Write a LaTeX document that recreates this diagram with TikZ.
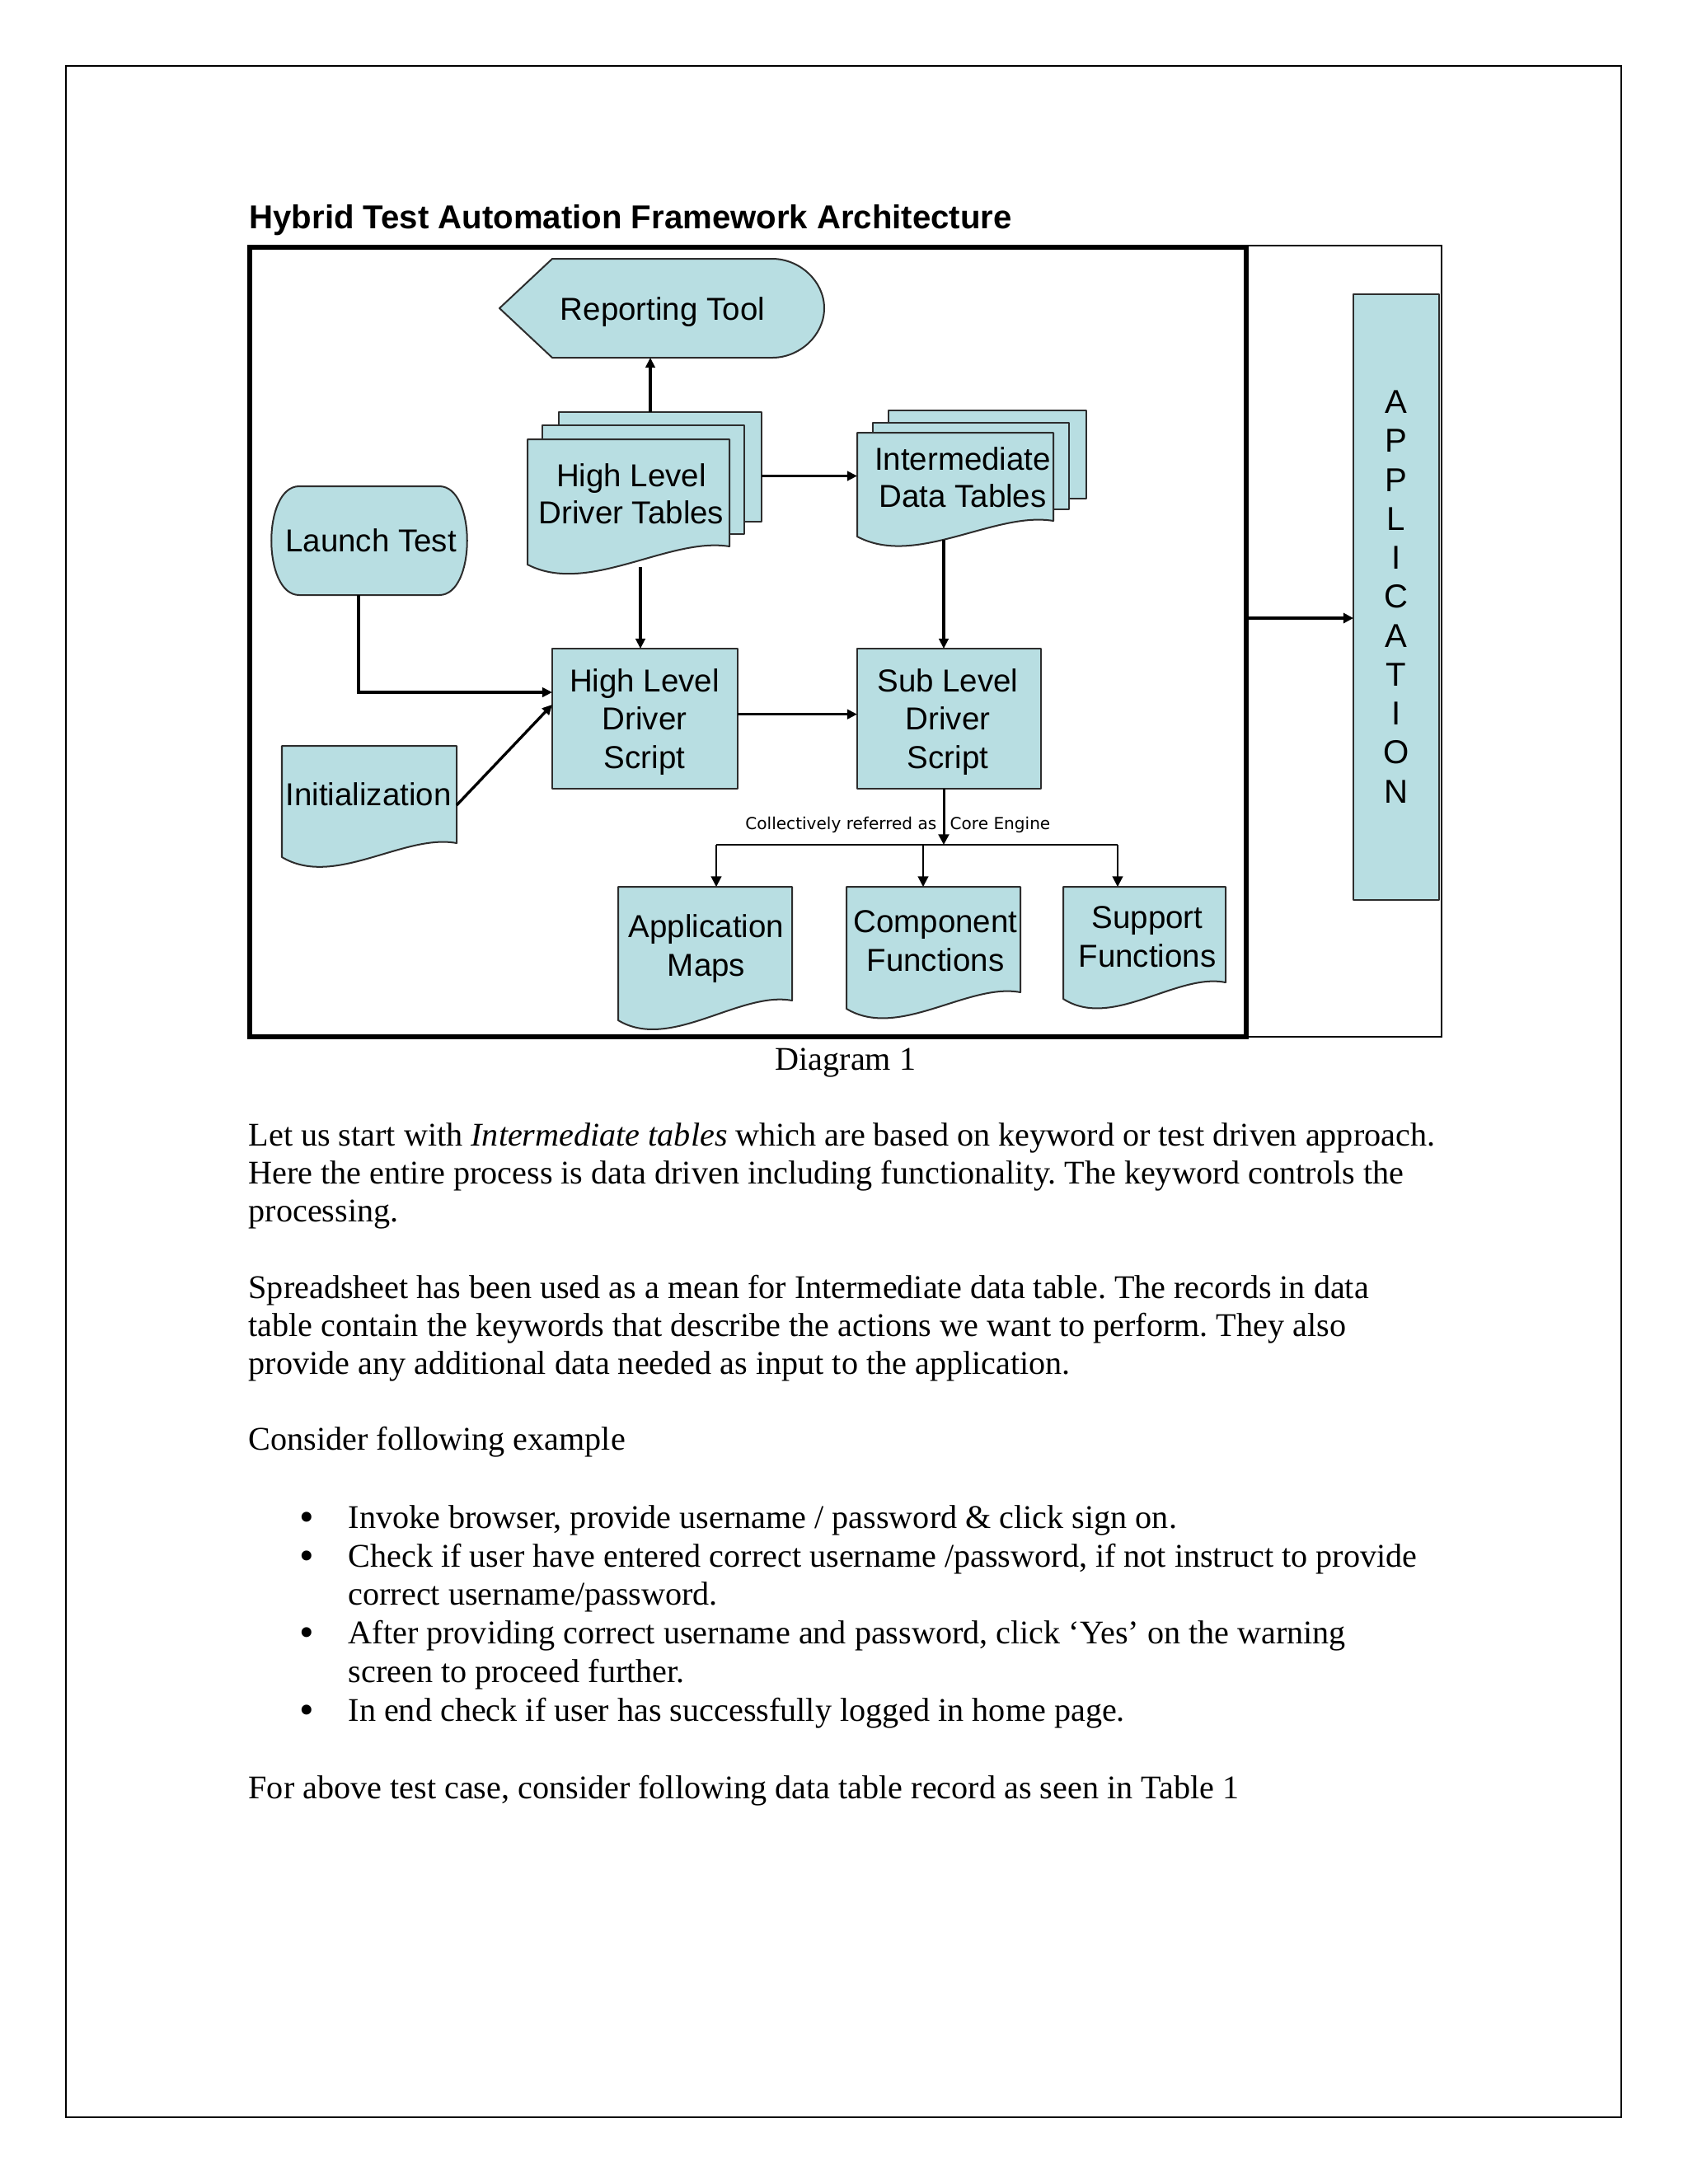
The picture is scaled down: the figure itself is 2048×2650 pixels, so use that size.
\documentclass[tikz,border=0pt]{standalone}
\usepackage{fontspec}
\setmainfont{Liberation Serif}
\newfontfamily\arialfont{Liberation Sans}
\newfontfamily\dejavufont{DejaVu Sans}
\usetikzlibrary{arrows.meta,fit}
\definecolor{boxfill}{RGB}{184,222,226}
\definecolor{boxline}{RGB}{45,45,45}
\newcommand\docshape[5]{\filldraw[shp] (#1,#2) -- (#3,#2) -- (#3,#4) .. controls ({#1+0.7*(#3-#1)},{#4-12}) and ({#1+0.3*(#3-#1)},{#5+38}) .. (#1,#5) -- cycle;}
\frenchspacing
\begin{document}
\begin{tikzpicture}[x=0.29885pt,y=-0.29885pt,
  shp/.style={fill=boxfill,draw=boxline,line width=0.6pt,line join=round},
  bbox/.style={inner sep=0pt,outer sep=0pt,draw=none},
  lbl/.style={font=\arialfont\fontsize{11.5}{14}\selectfont,align=center,inner sep=0pt},
  lbltwo/.style={font=\arialfont\fontsize{11.5}{13.5}\selectfont,align=center,inner sep=0pt},
  conn/.style={line width=1pt,-{Triangle[length=3.6pt,width=3.4pt]}},
  busarrow/.style={line width=0.6pt,-{Triangle[length=3.8pt,width=3.8pt]}},
  body/.style={font=\fontsize{12}{13.8}\selectfont,anchor=base west,inner sep=0pt},
  bul/.style={font=\fontsize{15}{15}\selectfont,anchor=center,inner sep=0pt},
  small/.style={inner sep=0pt,font=\dejavufont\fontsize{6}{7}\selectfont},
]
\useasboundingbox (0,0) rectangle (2048,2650);
\fill[white] (0,0) rectangle (2048,2650);
\draw[line width=0.7pt] (80,80) rectangle (1967,2569);
\node[anchor=base west,inner sep=0pt,font=\arialfont\bfseries\fontsize{12}{14}\selectfont] (title) at (302,277) {Hybrid Test Automation Framework Architecture};
% frames
\draw[line width=0.6pt] (1512,298) rectangle (1749,1258);
\node[bbox,fit={(303,300) (1512,1258)},draw=black,line width=1.8pt] (frame) {};
% reporting tool
\filldraw[shp] (606,374) -- (670,314) -- (937,314) .. controls (970,314) and (1000,341) .. (1000,374) .. controls (1000,407) and (970,434) .. (937,434) -- (670,434) -- cycle;
\node[bbox,fit={(606,314) (1000,434)}] (rep) {};
\node[lbl] (rept) at (804,379) {Reporting Tool};
% high level driver tables
\filldraw[shp] (678,500) rectangle (924,633);
\filldraw[shp] (658,516) rectangle (903,648);
\docshape{640}{533}{885}{663}{685}
\node[bbox,fit={(640,500) (924,696)}] (hldt) {};
\node[lbltwo] (hldtt) at (766,599) {High Level\\Driver Tables};
% intermediate data tables
\filldraw[shp] (1078,498) rectangle (1318,605);
\filldraw[shp] (1059,513) rectangle (1297,618);
\docshape{1040}{525}{1278}{632}{651}
\node[bbox,fit={(1040,498) (1318,657)}] (idt) {};
\node[lbltwo] (idtt) at (1168,579) {Intermediate\\Data Tables};
% launch test
\filldraw[shp] (363,590) -- (533,590) .. controls (578,590) and (578,722) .. (533,722) -- (363,722) .. controls (318,722) and (318,590) .. (363,590) -- cycle;
\node[bbox,fit={(329,590) (567,722)}] (launch) {};
\node[lbl] (launcht) at (450,656) {Launch Test};
% initialization
\docshape{342}{905}{554}{1023}{1040}
\node[bbox,fit={(342,905) (554,1049)}] (init) {};
\node[lbl] (initt) at (447,964) {Initialization};
% high level driver script
\filldraw[shp] (670,787) rectangle (895,957);
\node[bbox,fit={(670,787) (895,957)}] (hlds) {};
\node[lbl] (hldst) at (782,876) {High Level\\Driver\\Script};
% sub level driver script
\filldraw[shp] (1040,787) rectangle (1263,957);
\node[bbox,fit={(1040,787) (1263,957)}] (slds) {};
\node[lbl] (sldst) at (1150,876) {Sub Level\\Driver\\Script};
% bottom documents
\docshape{750}{1076}{961}{1214}{1238}
\node[bbox,fit={(750,1076) (961,1246)}] (apm) {};
\node[lbl] (apmt) at (857,1151) {Application\\Maps};
\docshape{1027}{1076}{1238}{1204}{1224}
\node[bbox,fit={(1027,1076) (1238,1234)}] (comp) {};
\node[lbl] (compt) at (1135,1142) {Component\\Functions};
\docshape{1290}{1076}{1487}{1192}{1212}
\node[bbox,fit={(1290,1076) (1487,1221)}] (sup) {};
\node[lbl] (supt) at (1392,1137) {Support\\Functions};
% application bar
\filldraw[shp] (1642,357) rectangle (1746,1092);
\node[bbox,fit={(1642,357) (1746,1092)}] (app) {};
\node[font=\arialfont\fontsize{12}{14.12}\selectfont,align=center,inner sep=0pt] (appt) at (1694,724) {A\\P\\P\\L\\I\\C\\A\\T\\I\\O\\N};
% connectors
\coordinate (repin) at (789,434);
\draw[conn] (repin |- hldt.north) -- (repin);
\draw[conn] (hldt.east |- idt.west) -- (idt.west);
\coordinate (hldtout) at (777,688);
\draw[conn] (hldtout) -- (hldtout |- hlds.north);
\coordinate (idtout) at (1145,655);
\draw[conn] (idtout) -- (idtout |- slds.north);
\coordinate (launchout) at (435,722);
\draw[conn] (launchout) |- ([yshift=9.56pt]hlds.west);
\draw[conn] (init.east) -- ([yshift=5.1pt]hlds.west);
\draw[conn] ([yshift=1.6pt]hlds.east) -- ([yshift=1.6pt]slds.west);
\coordinate (busM) at (1145,1025);
\coordinate (busL) at (869,1025);
\coordinate (busC) at (1120,1025);
\coordinate (busR) at (1356,1025);
\draw[line width=0.9pt,-{Triangle[length=3.8pt,width=3.8pt]}] (busM |- slds.south) -- (busM);
\draw[line width=0.6pt] (busL) -- (busR);
\draw[busarrow] (busL) -- (busL |- apm.north);
\draw[busarrow] (busC) -- (busC |- comp.north);
\draw[busarrow] (busR) -- (busR |- sup.north);
\coordinate (appin) at ([yshift=-7.62pt]app.west);
\draw[line width=1.3pt,-{Triangle[length=3.6pt,width=3.6pt]}] (frame.east |- appin) -- (appin);
\node[small,anchor=base east] (coll) at (1137,1006.5) {Collectively referred as};
\node[small,anchor=base west] (core) at (1152,1006.5) {Core Engine};
% caption and body text
\node[body] (cap) at (940,1298) {Diagram 1};
\node[body] (l1) at (301,1390) {Let us start with \textit{Intermediate tables} which are based on keyword or test driven approach.};
\node[body] (l2) at (301,1436) {Here the entire process is data driven including functionality. The keyword controls the};
\node[body] (l3) at (301,1482) {processing.};
\node[body] (l4) at (301,1575) {Spreadsheet has been used as a mean for Intermediate data table. The records in data};
\node[body] (l5) at (301,1621) {table contain the keywords that describe the actions we want to perform. They also};
\node[body] (l6) at (301,1667) {provide any additional data needed as input to the application.};
\node[body] (l7) at (301,1759) {Consider following example};
\node[bul] (b1) at (372,1846) {•};
\node[body] (t1) at (422,1854) {Invoke browser, provide username / password \& click sign on.};
\node[bul] (b2) at (372,1893) {•};
\node[body] (t2) at (422,1901) {Check if user have entered correct username /password, if not instruct to provide};
\node[body] (t2b) at (422,1947) {correct username/password.};
\node[bul] (b3) at (372,1986) {•};
\node[body] (t3) at (422,1994) {After providing correct username and password, click ‘Yes’ on the warning};
\node[body] (t3b) at (422,2041) {screen to proceed further.};
\node[bul] (b4) at (372,2080) {•};
\node[body] (t4) at (422,2088) {In end check if user has successfully logged in home page.};
\node[body] (l8) at (301,2182) {For above test case, consider following data table record as seen in Table 1};
\end{tikzpicture}
\end{document}
